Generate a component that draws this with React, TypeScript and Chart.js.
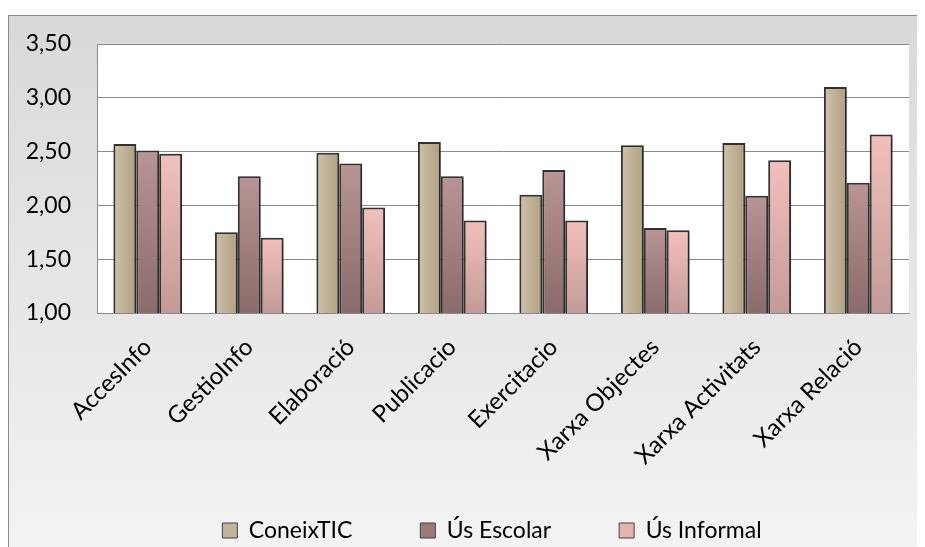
import React, { useEffect, useRef } from "react";
import { Chart, registerables } from "chart.js";

Chart.register(...registerables);

const categories = [
  "AccesInfo",
  "GestioInfo",
  "Elaboració",
  "Publicacio",
  "Exercitacio",
  "Xarxa Objectes",
  "Xarxa Activitats",
  "Xarxa Relació",
];
const seriesNames = ["ConeixTIC", "Ús Escolar", "Ús Informal"];
const coneixTIC = [2.57, 1.75, 2.49, 2.59, 2.1, 2.56, 2.58, 3.1];
const usEscolar = [2.51, 2.27, 2.39, 2.27, 2.33, 1.79, 2.09, 2.21];
const usInformal = [2.48, 1.7, 1.98, 1.86, 1.86, 1.77, 2.42, 2.66];
const yMin = 1;
const yMax = 3.5;
const yStep = 0.5;

const CAT_PCT = 0.677;
const FONT = "Lato, 'Open Sans', sans-serif";
const LEGEND_PAD = 68;
const LEGEND_FONT = 23;
const CANVAS_W = 916;
const CANVAS_H = 560;
const PLOT_BOTTOM = 297;
const X_AXIS_H = CANVAS_H - (LEGEND_FONT + LEGEND_PAD + 10) - PLOT_BOTTOM;
const LEGEND_DX = -11;
const LEGEND_DY = -24;

const vGrad = (top: string, bottom: string, solid: string) => (c: any) => {
  if (c.type !== "data") return solid;
  const chart = c.chart;
  const area = chart.chartArea;
  const ys = chart.scales.y;
  if (!area || !ys) return solid;
  const yTop = ys.getPixelForValue(c.raw as number);
  const g = chart.ctx.createLinearGradient(0, yTop, 0, area.bottom);
  g.addColorStop(0, top);
  g.addColorStop(1, bottom);
  return g;
};

const hGrad = (left: string, right: string, solid: string, slot: number) => (c: any) => {
  if (c.type !== "data") return solid;
  const chart = c.chart;
  const xs = chart.scales.x;
  if (!chart.chartArea || !xs) return solid;
  const cw = xs.width / categories.length;
  const bw = (cw * CAT_PCT) / 3;
  const cx = xs.getPixelForValue(c.dataIndex);
  const l = cx - 1.5 * bw + slot * bw;
  const g = chart.ctx.createLinearGradient(l, 0, l + bw, 0);
  g.addColorStop(0, left);
  g.addColorStop(1, right);
  return g;
};

const legendSolid = ["#c2b49a", "#9e7a7a", "#e6b2ae"];

const plotBg = {
  id: "plotBg",
  beforeDraw(chart: any) {
    const { ctx, chartArea } = chart;
    if (!chartArea) return;
    ctx.save();
    ctx.fillStyle = "#ffffff";
    ctx.fillRect(chartArea.left, chartArea.top, chartArea.width, chartArea.height);
    ctx.restore();
  },
};

const legendShift = {
  id: "legendShift",
  afterLayout(chart: any) {
    const lg = chart.legend;
    const area = chart.chartArea;
    if (!lg || !area) return;
    const dx = (area.left + area.right) / 2 + LEGEND_DX - (lg.left + lg.right) / 2;
    lg.left += dx;
    lg.right += dx;
    lg.top += LEGEND_DY;
    lg.bottom += LEGEND_DY;
  },
};

const barShadow = {
  id: "barShadow",
  beforeDatasetsDraw(chart: any) {
    const ctx = chart.ctx;
    ctx.save();
    ctx.shadowColor = "rgba(0,0,0,0.28)";
    ctx.shadowBlur = 4;
    ctx.shadowOffsetX = 2;
    ctx.shadowOffsetY = 2;
  },
  afterDatasetsDraw(chart: any) {
    chart.ctx.restore();
  },
};

export default function App() {
  const ref = useRef<HTMLCanvasElement | null>(null);

  useEffect(() => {
    if (!ref.current) return;
    const chart = new Chart(ref.current, {
      type: "bar",
      data: {
        labels: categories,
        datasets: [
          {
            label: seriesNames[0],
            data: coneixTIC,
            backgroundColor: hGrad("#cec1ad", "#b0a07f", legendSolid[0], 0),
            borderColor: "#333333",
            borderWidth: 2,
          },
          {
            label: seriesNames[1],
            data: usEscolar,
            backgroundColor: vGrad("#b99595", "#8a6a6a", legendSolid[1]),
            borderColor: "#333333",
            borderWidth: 2,
          },
          {
            label: seriesNames[2],
            data: usInformal,
            backgroundColor: vGrad("#f3c0bb", "#c39a98", legendSolid[2]),
            borderColor: "#333333",
            borderWidth: 2,
          },
        ],
      },
      options: {
        responsive: false,
        animation: false,
        devicePixelRatio: 1,
        layout: { padding: { left: 10, right: 16, top: 28, bottom: 0 } },
        datasets: {
          bar: { categoryPercentage: CAT_PCT, barPercentage: 1 },
        },
        scales: {
          x: {
            grid: { display: false },
            border: { display: true, color: "#8a8a8a", width: 1 },
            ticks: {
              color: "#000",
              font: { family: FONT, size: 24 },
              minRotation: 45,
              maxRotation: 45,
              padding: 12,
              autoSkip: false,
            },
            afterFit: (s: any) => {
              s.height = X_AXIS_H;
            },
          },
          y: {
            min: yMin,
            max: yMax,
            grid: {
              color: "#8a8a8a",
              lineWidth: 1,
              drawTicks: true,
              tickLength: 26,
              tickColor: "rgba(0,0,0,0)",
            },
            border: { display: true, color: "#8a8a8a", width: 1 },
            ticks: {
              stepSize: yStep,
              color: "#000",
              padding: 0,
              font: { family: FONT, size: 23 },
              callback: (v: any) => Number(v).toFixed(2).replace(".", ","),
            },
            afterFit: (s: any) => {
              s.width = 78;
            },
          },
        },
        plugins: {
          tooltip: { enabled: false },
          legend: {
            position: "bottom",
            labels: {
              color: "#000",
              font: { family: FONT, size: LEGEND_FONT },
              boxWidth: 15,
              boxHeight: 15,
              padding: LEGEND_PAD,
              generateLabels: (ch: any) => {
                const items = Chart.defaults.plugins.legend.labels.generateLabels(ch);
                return items.map((it: any, i: number) => ({
                  ...it,
                  fillStyle: legendSolid[i],
                  strokeStyle: "#404040",
                  lineWidth: 1,
                }));
              },
            },
          },
        },
      },
      plugins: [plotBg, barShadow, legendShift],
    });
    return () => chart.destroy();
  }, []);

  return (
    <>
      <style>{`html,body{overflow:hidden;}`}</style>
      <div
        style={{
          marginTop: 7,
          width: CANVAS_W,
          height: 531,
          overflow: "hidden",
          borderLeft: "1px solid #8a8a8a",
          borderTop: "1px solid #8a8a8a",
          background: "linear-gradient(to bottom, #d9d9d9, #f3f3f3)",
        }}
      >
        <canvas
          ref={ref}
          width={CANVAS_W}
          height={CANVAS_H}
          style={{ display: "block", width: CANVAS_W, height: CANVAS_H }}
        />
      </div>
    </>
  );
}
